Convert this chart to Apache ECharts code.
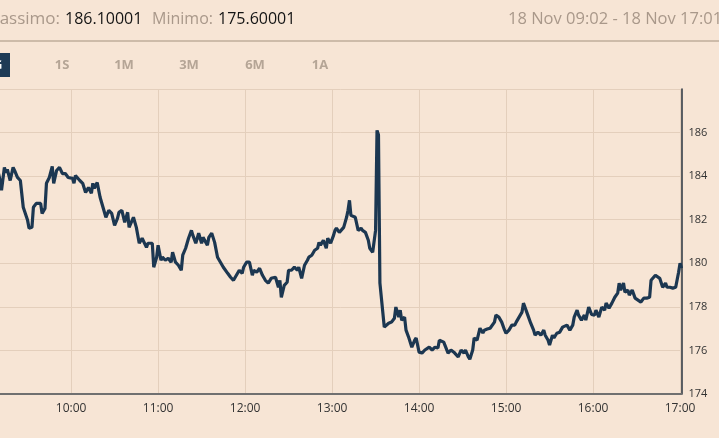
<!DOCTYPE html>
<html><head><meta charset="utf-8">
<script src="https://cdn.jsdelivr.net/npm/echarts@6/dist/echarts.min.js"></script>
<style>html,body{margin:0;padding:0;background:#f7e5d5;}#c{width:719px;height:438px;}</style>
</head><body><div id="c"></div><script>
const times = ["09:02","09:04","09:06","09:08","09:10","09:11","09:12","09:14","09:15","09:16","09:18","09:20","09:21","09:23","09:25","09:27","09:30","09:31","09:33","09:34","09:36","09:37","09:39","09:40","09:42","09:43","09:45","09:47","09:48","09:50","09:52","09:54","09:56","09:58",
"10:01","10:02","10:03","10:06","10:08","10:10","10:12","10:14","10:15","10:16","10:18","10:20","10:22","10:24","10:26","10:28","10:30","10:32","10:33","10:35","10:37","10:39","10:40","10:43","10:45","10:47","10:49","10:52","10:53","10:56","10:57","10:59",
"11:00","11:02","11:03","11:05","11:07","11:09","11:10","11:12","11:14","11:16","11:17","11:19","11:21","11:23","11:24","11:26","11:28","11:30","11:31","11:34","11:35","11:37","11:39","11:41","11:43","11:45","11:48","11:50","11:52","11:54","11:56","11:58","11:59",
"12:01","12:03","12:05","12:06","12:08","12:10","12:12","12:14","12:16","12:18","12:19","12:21","12:23","12:24","12:25","12:27","12:29","12:30","12:32","12:34","12:36","12:37","12:39","12:41","12:43","12:44","12:46","12:48","12:50","12:51","12:52","12:54","12:56","12:57","12:59",
"13:01","13:02","13:03","13:05","13:08","13:09","13:10","13:11","13:12","13:13","13:14","13:16","13:18","13:20","13:21","13:23","13:25","13:26","13:28","13:29","13:30","13:31","13:32","13:33","13:34","13:36","13:37","13:39","13:41","13:43","13:44","13:46","13:47","13:48","13:50","13:51","13:53","13:55","13:57","13:58",
"14:00","14:02","14:04","14:05","14:07","14:09","14:11","14:13","14:14","14:17","14:18","14:20","14:22","14:24","14:25","14:27","14:29","14:31","14:32","14:34","14:35","14:37","14:38","14:40","14:42","14:44","14:45","14:47","14:49","14:50","14:52","14:53","14:55","14:57","14:59",
"15:00","15:02","15:04","15:06","15:07","15:09","15:11","15:12","15:13","15:15","15:17","15:19","15:20","15:22","15:24","15:26","15:27","15:29","15:30","15:32","15:33","15:35","15:37","15:39","15:40","15:42","15:44","15:46","15:47","15:49","15:50","15:52","15:54","15:55","15:57","15:59",
"16:01","16:02","16:04","16:06","16:08","16:09","16:11","16:13","16:15","16:17","16:18","16:19","16:21","16:22","16:24","16:25","16:27","16:29","16:31","16:33","16:35","16:37","16:39","16:40","16:41","16:43","16:44","16:46","16:48","16:50","16:51","16:53","16:55","16:57","16:58","16:59",
"17:00","17:01"];
const prices = [183.9,184.3,184.0,184.4,184.1,183.80,183.35,184.40,184.17,184.31,183.80,184.40,184.26,183.94,183.80,182.57,181.97,181.61,181.65,182.57,182.75,182.66,182.75,182.29,182.52,183.67,183.94,184.45,183.67,184.26,184.40,184.12,184.12,183.94,
183.90,183.67,184.03,183.80,183.67,183.25,183.48,183.21,183.67,183.44,183.71,183.03,182.57,182.11,182.43,182.29,181.74,182.06,182.34,182.43,181.88,182.34,181.65,182.11,181.65,180.92,181.15,180.73,180.92,180.92,179.82,180.28,
180.83,180.14,180.28,180.14,180.23,180.05,180.51,180.05,179.91,179.68,180.37,180.69,181.15,181.51,181.28,180.92,181.38,180.92,181.19,180.83,181.19,181.38,180.96,180.28,180.05,179.82,179.54,179.36,179.22,179.45,179.68,179.54,179.82,
180.05,180.05,179.45,179.68,179.59,179.77,179.45,179.22,179.09,179.31,179.22,179.36,178.90,179.22,178.44,178.99,179.13,179.68,179.68,179.82,179.68,179.82,179.31,179.91,180.14,180.28,180.37,180.60,180.69,180.96,180.83,181.06,180.69,181.15,180.92,
181.28,181.51,181.61,181.42,181.65,181.88,182.11,182.43,182.89,182.20,182.11,182.11,181.51,181.61,181.51,181.42,181.06,180.69,180.51,180.51,181.51,186.10,185.90,179.09,179.05,177.07,177.02,177.25,177.30,177.48,177.99,177.53,177.85,177.39,177.53,176.93,176.57,176.15,176.47,176.57,
175.92,175.88,176.02,176.11,176.15,176.02,176.15,176.11,176.47,176.38,176.47,175.88,176.02,175.92,175.88,175.70,176.02,175.88,176.02,175.70,175.60,176.02,176.57,176.47,177.02,176.80,176.93,176.98,177.02,177.07,177.30,177.62,177.53,177.30,176.93,
176.79,176.93,177.16,177.16,177.30,177.53,177.76,178.17,177.99,177.62,177.25,176.93,176.70,176.84,176.70,176.93,176.70,176.47,176.25,176.70,176.57,176.79,176.84,177.07,177.07,177.16,176.93,177.16,177.53,177.85,177.62,177.39,177.62,177.39,177.99,177.65,
177.62,177.85,177.53,177.99,177.85,178.17,177.94,178.17,178.44,178.63,179.09,178.77,179.09,178.67,178.77,178.54,178.77,178.40,178.31,178.22,178.40,178.40,178.44,179.22,179.13,179.45,179.36,179.31,178.90,179.09,178.90,178.90,178.86,178.90,178.86,179.59,
180.00,179.77];
const yTicks = [174,176,178,180,182,184,186];
const rangeButtons = ["1G","1S","1M","3M","6M","1A"];
const headerMax = "186.10001", headerMin = "175.60001";
const rangeText = "18 Nov 09:02 - 18 Nov 17:01";

function ts(t){const p=t.split(':');return new Date(2024,10,18,+p[0],+p[1]).getTime();}
const data = times.map((t,i)=>[ts(t),prices[i]]);

const FONT = 'Open Sans';
const grid = '#e4cfbc';
const btnX = [-6,62,124,189,255,320];
const graphics = [
  {type:'text',x:60,y:19,style:{text:'Massimo:',font:'17px "Open Sans"',fill:'#a9988a',align:'right',verticalAlign:'middle'}},
  {type:'text',x:65,y:19,style:{text:headerMax,font:'16px "Open Sans"',fill:'#141414',verticalAlign:'middle'}},
  {type:'text',x:213,y:19,style:{text:'Minimo:',font:'16px "Open Sans"',fill:'#a9988a',align:'right',verticalAlign:'middle'}},
  {type:'text',x:218,y:19,style:{text:headerMin,font:'16px "Open Sans"',fill:'#141414',verticalAlign:'middle'}},
  {type:'text',x:508,y:19,style:{text:rangeText,font:'16.5px "Open Sans"',fill:'#a9988a',verticalAlign:'middle'}},
  {type:'rect',shape:{x:0,y:40,width:719,height:2},style:{fill:'#cdbba9'}},
  {type:'rect',shape:{x:-24,y:53,width:34,height:24},style:{fill:'#1f3b56'}}
];
rangeButtons.forEach((b,i)=>{
  graphics.push({type:'text',x:btnX[i],y:65,style:{text:b,font:'bold 13px "Open Sans"',fill:i===0?'#ffffff':'#b5a596',align:'center',verticalAlign:'middle'}});
});

const chart = echarts.init(document.getElementById('c'));
chart.setOption({
  backgroundColor:'#f7e5d5',
  animation:false,
  graphic:graphics,
  grid:{left:-13,right:37.5,top:89,bottom:44,outerBoundsMode:'none',containLabel:false},
  xAxis:{type:'time',min:ts('09:02'),max:ts('17:01'),minInterval:3600000,maxInterval:3600000,splitNumber:8,
    axisLine:{show:true,lineStyle:{color:'#707070',width:2}},
    axisTick:{show:false},
    splitLine:{show:true,lineStyle:{color:grid,width:1}},
    axisLabel:{formatter:'{HH}:{mm}',color:'#333',fontFamily:FONT,fontSize:12,margin:9,showMinLabel:false,showMaxLabel:false}
  },
  yAxis:{type:'value',position:'right',min:174,max:188,interval:2,
    axisLine:{show:true,lineStyle:{color:'#2a3440',width:1.5}},
    axisTick:{show:false},
    splitLine:{show:true,lineStyle:{color:grid,width:1}},
    axisLabel:{color:'#333',fontFamily:FONT,fontSize:11,margin:7,formatter:v=>yTicks.indexOf(v)>=0?String(v):''}
  },
  series:[{type:'line',data:data,showSymbol:false,symbol:'none',lineStyle:{color:'#1c3751',width:3.2},clip:true}]
});
</script></body></html>
